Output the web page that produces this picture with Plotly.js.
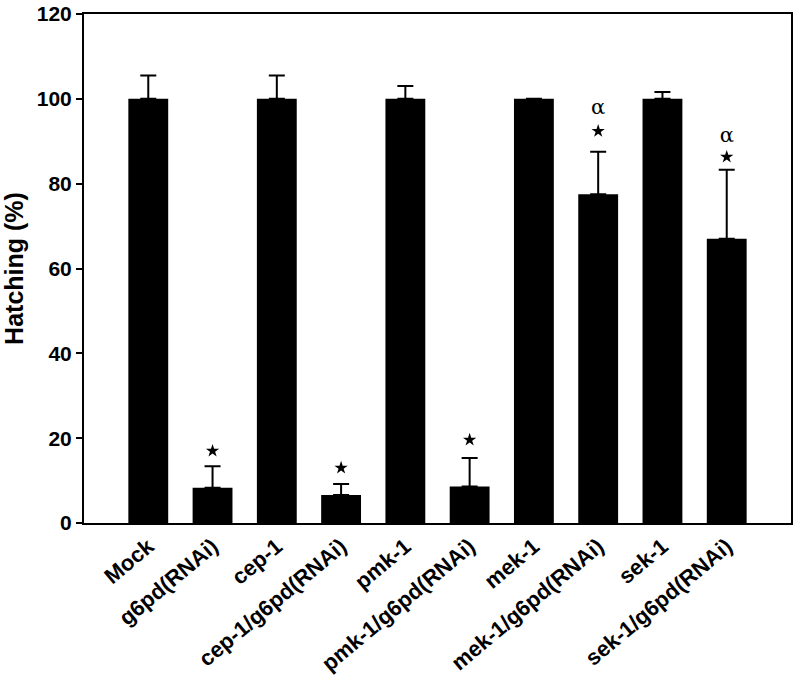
<!DOCTYPE html>
<html>
<head>
<meta charset="utf-8">
<script src="https://cdn.plot.ly/plotly-3.0.1.min.js"></script>
<style>
  body { margin: 0; background: #fff; }
  #chart { width: 794px; height: 681px; }
</style>
</head>
<body>
<div id="chart"></div>
<script>
// hatching bar chart

const categories = ['Mock', 'g6pd(RNAi)', 'cep-1', 'cep-1/g6pd(RNAi)', 'pmk-1', 'pmk-1/g6pd(RNAi)', 'mek-1', 'mek-1/g6pd(RNAi)', 'sek-1', 'sek-1/g6pd(RNAi)']
const hatching = [100, 8.3, 100, 6.6, 100, 8.6, 100, 77.5, 100, 67]
const errUp = [5.5, 5.1, 5.5, 2.6, 3, 6.7, 0, 10, 1.6, 16.3]

const starCats = ['g6pd(RNAi)', 'cep-1/g6pd(RNAi)', 'pmk-1/g6pd(RNAi)', 'mek-1/g6pd(RNAi)', 'sek-1/g6pd(RNAi)']
const starY = [17, 13, 19.6, 92.4, 86.3]
const alphaCats = ['mek-1/g6pd(RNAi)', 'sek-1/g6pd(RNAi)']
const alphaY = [97.6, 91]

const yTicks = [0, 20, 40, 60, 80, 100, 120]

const font = { family: 'Liberation Sans, Arial, sans-serif', color: '#000', weight: 700 }

const chart = () => {
  const data = [
    {
      x: categories,
      y: hatching,
      type: 'bar',
      width: 0.62,
      marker: { color: '#000' },
      error_y: {
        type: 'data',
        symmetric: false,
        array: errUp,
        arrayminus: errUp.map(() => 0),
        color: '#000',
        thickness: 2,
        width: 8,
      },
      hoverinfo: 'skip',
    },
    {
      x: starCats,
      y: starY,
      type: 'scatter',
      mode: 'markers',
      marker: { symbol: 'star', size: 10, color: '#000' },
    },
    {
      x: alphaCats,
      y: alphaY,
      type: 'scatter',
      mode: 'text',
      text: alphaCats.map(() => 'α'),
      textfont: { family: 'DejaVu Serif, serif', size: 21, color: '#000', weight: 400 },
    }
  ]

  const layout = {
    width: 794,
    height: 681,
    margin: { l: 84, r: 3, t: 14, b: 158 },
    showlegend: false,
    paper_bgcolor: '#fff',
    plot_bgcolor: '#fff',
    font: font,
    xaxis: {
      type: 'category',
      categoryorder: 'array',
      categoryarray: categories,
      range: [-1, 10],
      tickangle: -40,
      ticks: '',
      tickfont: Object.assign({}, font, { size: 22 }),
      showline: true,
      linecolor: '#000',
      linewidth: 2,
      mirror: true,
      showgrid: false,
      zeroline: false,
    },
    yaxis: {
      range: [0, 120],
      tickvals: yTicks,
      ticks: 'outside',
      ticklen: 6,
      tickwidth: 2,
      tickcolor: '#000',
      tickfont: Object.assign({}, font, { size: 21 }),
      showline: true,
      linecolor: '#000',
      linewidth: 2,
      mirror: true,
      showgrid: false,
      zeroline: false,
      title: { text: 'Hatching (%)', font: Object.assign({}, font, { size: 25 }), standoff: 8 },
    },
  }

  Plotly.newPlot('chart', data, layout, { staticPlot: true })
}

chart()
</script>
</body>
</html>
